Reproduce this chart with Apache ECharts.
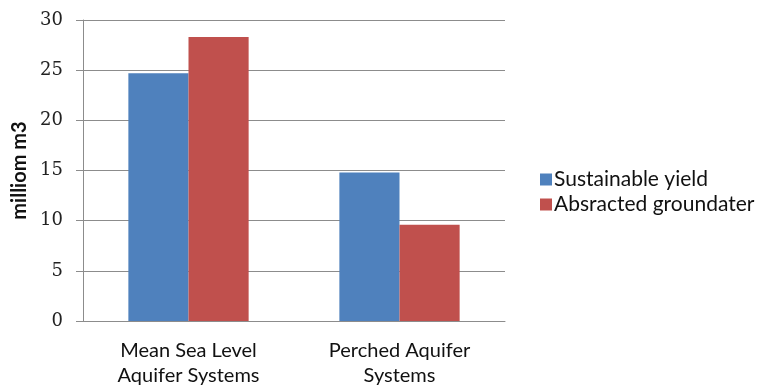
<!DOCTYPE html>
<html>
<head>
<meta charset="utf-8">
<script src="https://cdn.jsdelivr.net/npm/echarts@6/dist/echarts.min.js"></script>
<style>
  html, body { margin: 0; padding: 0; background: #fff; }
  #chart { width: 761px; height: 388px; }
</style>
</head>
<body>
<div id="chart"></div>
<script>
// Aquifer categories and volumes (million m3)
const categories = ['Mean Sea Level\nAquifer Systems', 'Perched Aquifer\nSystems'];
const sustainableYield = [24.7, 14.8];
const abstractedGroundwater = [28.3, 9.6];
const yTicks = [0, 5, 10, 15, 20, 25, 30];

const chart = echarts.init(document.getElementById('chart'), null, { renderer: 'canvas' });

chart.setOption({
  animation: false,
  backgroundColor: '#ffffff',
  grid: { left: 83, right: 256, top: 20, bottom: 66 },
  legend: {
    orient: 'vertical',
    left: 535,
    top: 164,
    itemWidth: 12,
    itemHeight: 12,
    itemGap: 4,
    icon: 'rect',
    textStyle: {
      fontFamily: 'Lato', fontSize: 21, color: '#111',
      padding: [0, 0, 0, -3]
    },
    data: ['Sustainable yield', 'Absracted groundater']
  },
  xAxis: {
    type: 'category',
    data: categories,
    axisLine: { show: true, lineStyle: { color: '#8c8c8c', width: 1 } },
    axisTick: { show: false },
    axisLabel: {
      fontFamily: 'Lato', fontSize: 20, color: '#111',
      lineHeight: 25, margin: 17
    }
  },
  yAxis: {
    type: 'value',
    min: yTicks[0],
    max: yTicks[yTicks.length - 1],
    interval: 5,
    name: 'milliom m3',
    nameLocation: 'middle',
    nameGap: 53,
    nameRotate: 90,
    nameTextStyle: { fontFamily: 'Lato', fontSize: 20, fontWeight: 'bold', color: '#111' },
    axisLine: { show: true, lineStyle: { color: '#8c8c8c', width: 1 } },
    axisTick: { show: true, length: 7, lineStyle: { color: '#8c8c8c' } },
    splitLine: { show: true, lineStyle: { color: '#8c8c8c', width: 1 } },
    axisLabel: {
      fontFamily: 'DejaVu Serif', fontSize: 18, color: '#222', margin: 20
    }
  },
  series: [
    {
      name: 'Sustainable yield',
      type: 'bar',
      data: sustainableYield,
      itemStyle: { color: '#4f81bd' },
      barGap: '0%',
      barCategoryGap: '43%'
    },
    {
      name: 'Absracted groundater',
      type: 'bar',
      data: abstractedGroundwater,
      itemStyle: { color: '#c0504d' },
      barGap: '0%',
      barCategoryGap: '43%'
    }
  ]
});
</script>
</body>
</html>
